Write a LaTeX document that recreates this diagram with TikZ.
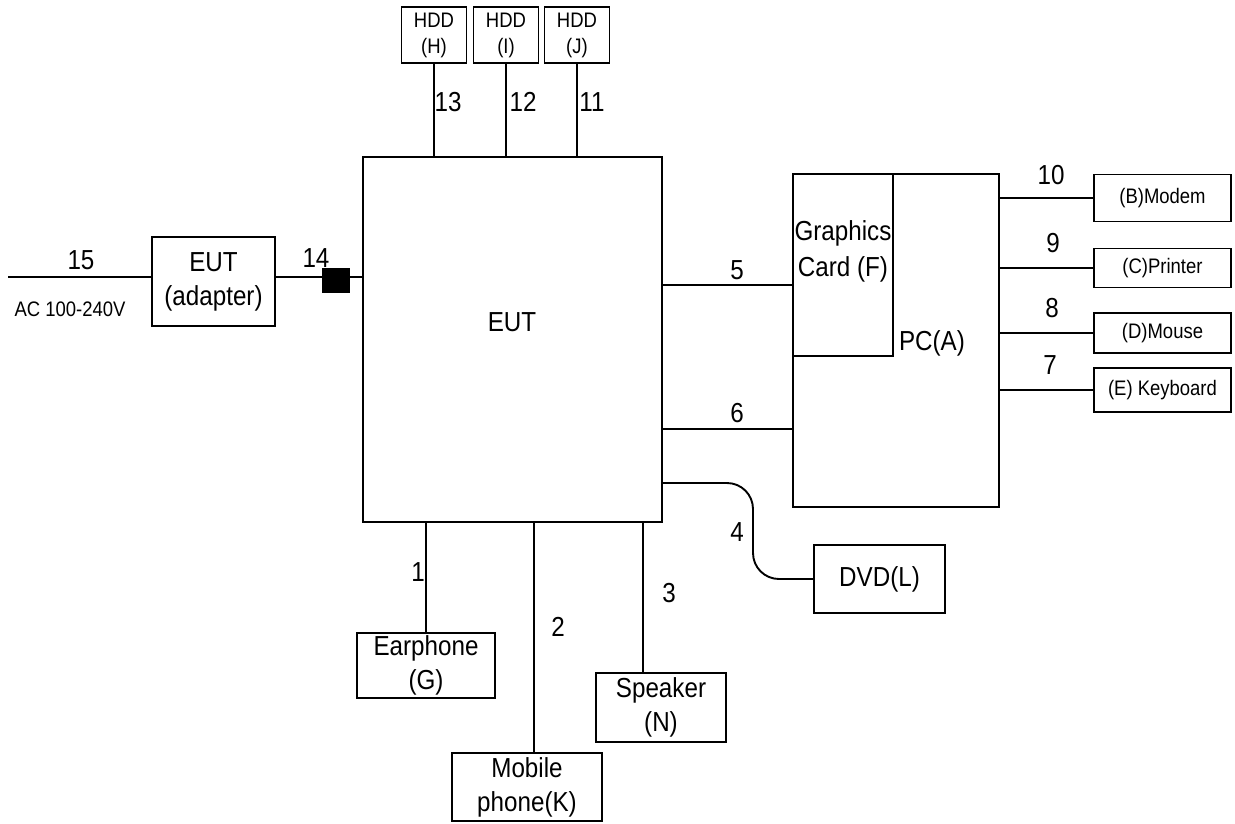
\documentclass[tikz,border=0pt]{standalone}
\usepackage{fontspec}
\setmainfont{Liberation Sans}[FakeStretch=0.88]
\newcommand{\bigtxt}{\fontsize{27.5}{34}\selectfont}
\newcommand{\smalltxt}{\fontsize{21}{26}\selectfont}
\tikzset{
  box/.style={draw, inner sep=0pt, align=center, font=\bigtxt},
  smallbox/.style={box, font=\smalltxt},
  num/.style={inner sep=0pt, font=\bigtxt},
}
\begin{document}
\begin{tikzpicture}[x=1pt, y=-1pt, line width=1.9pt]
  \useasboundingbox (0,0) rectangle (1235,823);
  % main units
  \node[box, minimum width=299, minimum height=365] (eut) at (512.5,339.5) {};
  \node[num] (euttxt) at (512,322) {EUT};
  \node[box, minimum width=206, minimum height=333] (pc) at (896,340.5) {};
  \node[box, minimum width=100, minimum height=182] (gfx) at (843,265) {};
  \node[num, align=center, font=\fontsize{27.5}{36}\selectfont] (gfxtxt) at (843,251) {Graphics\\Card (F)};
  \node[num] (pctxt) at (932,343) {PC(A)};
  \node[box, minimum width=123, minimum height=89] (adapter) at (213.5,281.5) {EUT\\(adapter)};
  \node[fill=black, inner sep=0pt, minimum width=28, minimum height=25] (plug) at (336,280) {};
  % HDDs
  \foreach \id/\x in {H/434, I/506, J/577}
    \node[smallbox, minimum width=65, minimum height=56] (hdd\id) at (\x,35) {HDD\\(\id)};
  % peripherals of the PC
  \node[smallbox, minimum width=137, minimum height=47] (modem) at (1162.5,198) {(B)Modem};
  \node[smallbox, minimum width=137, minimum height=39] (printer) at (1162.5,268) {(C)Printer};
  \node[smallbox, minimum width=137, minimum height=40] (mouse) at (1162.5,333) {(D)Mouse};
  \node[smallbox, minimum width=137, minimum height=44] (keyboard) at (1162.5,390) {(E) Keyboard};
  % bottom devices
  \node[box, minimum width=131, minimum height=68] (dvd) at (879.5,579) {DVD(L)};
  \node[box, minimum width=138, minimum height=65] (ear) at (426,665.5) {Earphone\\(G)};
  \node[box, minimum width=150, minimum height=68] (mob) at (527,787) {Mobile\\phone(K)};
  \node[box, minimum width=130, minimum height=69] (spk) at (661,707.5) {Speaker\\(N)};
  % cables
  \coordinate (ac) at (8,277);
  \coordinate (c5) at (0,285);
  \coordinate (c6) at (0,429);
  \coordinate (c4) at (753,483);
  \draw (ac) -- (ac -| adapter.west);
  \draw (ac -| adapter.east) -- (ac -| eut.west);
  \foreach \id in {H,I,J}
    \draw (hdd\id.south) -- (hdd\id.south |- eut.north);
  \draw (c5 -| eut.east) -- (c5 -| pc.west);
  \draw (c6 -| eut.east) -- (c6 -| pc.west);
  \draw[rounded corners=26pt] (c4 -| eut.east) -- (c4) |- (dvd.west);
  \foreach \dev in {modem,printer,mouse,keyboard}
    \draw (\dev.west) -- (\dev.west -| pc.east);
  \draw (ear.north) -- (ear.north |- eut.south);
  \draw ([xshift=7pt]mob.north) -- ([xshift=7pt]mob.north |- eut.south);
  \draw ([xshift=-18pt]spk.north) -- ([xshift=-18pt]spk.north |- eut.south);
  % cable numbers
  \foreach \n/\x/\y in {15/81/260, 14/316/258, 13/448/102, 12/523/102, 11/592/102,
      10/1051/175, 9/1053/243, 8/1052/308, 7/1050/365, 5/737/270, 6/737/413,
      4/737/532, 1/418/572, 2/558/627, 3/669/593}
    \node[num] (n\n) at (\x,\y) {\n};
  \node[inner sep=0pt, font=\smalltxt] (acin) at (70,309) {AC 100-240V};
\end{tikzpicture}
\end{document}
